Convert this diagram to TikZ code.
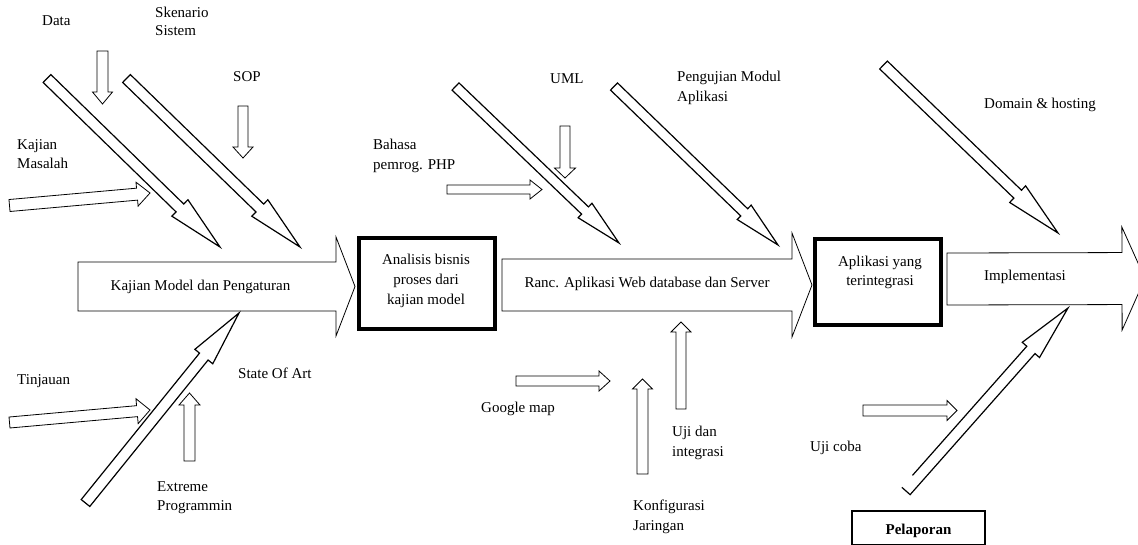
\documentclass[tikz,border=0pt]{standalone}
\usepackage{fontspec}
\setmainfont{Liberation Serif}
\usetikzlibrary{calc}
\newcommand{\fatpts}[6]{%
  \coordinate (#1c) at ($(#3)!#6!(#2)$);
  \coordinate (#1a) at ($(#2)!#4!90:(#3)$);
  \coordinate (#1b) at ($(#1c)!#4!90:(#3)$);
  \coordinate (#1d) at ($(#1c)!#5!90:(#3)$);
  \coordinate (#1e) at ($(#1c)!#5!-90:(#3)$);
  \coordinate (#1f) at ($(#1c)!#4!-90:(#3)$);
  \coordinate (#1g) at ($(#2)!#4!-90:(#3)$);
}
\newcommand{\fatarrow}[7]{% style, name, tail, tip, w, h, L
  \fatpts{#2}{#3}{#4}{#5}{#6}{#7}
  \draw[#1] (#2a) -- (#2b) -- (#2d) -- (#4) -- (#2e) -- (#2f) -- (#2g) -- cycle;
}
\tikzset{
  lbl/.style={anchor=north west, inner sep=0pt, align=left, font=\fontsize{15}{20}\selectfont},
  clbl/.style={anchor=north, inner sep=0pt, align=center, font=\fontsize{15}{20}\selectfont},
  fat/.style={line width=1.2pt, line join=miter},
  thinarr/.style={line width=0.8pt, line join=miter},
  mainarr/.style={line width=0.8pt, line join=miter},
  bigbox/.style={draw, line width=4pt, inner sep=0pt},
  smallbox/.style={draw, line width=1.8pt, inner sep=0pt},
}
\begin{document}
\begin{tikzpicture}[x=1pt, y=-1pt]
\useasboundingbox (0,0) rectangle (1138,544);
\clip (0,0) rectangle (1138,544);

% main arrows
\coordinate (m1t) at (78,286.5);   \coordinate (m1h) at (355,286.5);
\coordinate (m2t) at (502,285);    \coordinate (m2h) at (812,285);
\coordinate (m3t) at (947,279);    \coordinate (m3h) at (1145,278.5);
\fatarrow{mainarr}{M1}{m1t}{m1h}{24.5pt}{49.5pt}{19pt}
\fatarrow{mainarr}{M2}{m2t}{m2h}{26pt}{52pt}{20pt}
\fatarrow{mainarr}{M3}{m3t}{m3h}{26pt}{51.5pt}{23pt}

% boxes
\node[bigbox, minimum width=136pt, minimum height=91pt] (analisisbox) at (426.5,283.5) {};
\node[bigbox, minimum width=126pt, minimum height=86pt] (aplikasibox) at (878,282) {};
\node[smallbox, minimum width=133pt, minimum height=34pt] (pelaporanbox) at (918.5,528) {};

% small arrows
\coordinate (datat) at (102.5,51);  \coordinate (datah) at (102.5,104);
\coordinate (sopt) at (243,106);    \coordinate (soph) at (243,158);
\coordinate (kmt) at (9.5,205.5);   \coordinate (kmh) at (150,193);
\coordinate (tint) at (9.5,422.5);  \coordinate (tinh) at (150,410);
\coordinate (extt) at (189.5,461);  \coordinate (exth) at (189.5,393);
\coordinate (phpt) at (447,189.5);  \coordinate (phph) at (542,189.5);
\coordinate (umlt) at (565,126);    \coordinate (umlh) at (565,178);
\coordinate (gmt) at (516,381);     \coordinate (gmh) at (610,381);
\coordinate (konft) at (642.5,474); \coordinate (konfh) at (642.5,379);
\coordinate (ujit) at (681,409);    \coordinate (ujih) at (681,322);
\coordinate (uct) at (863,410.5);   \coordinate (uch) at (957,410.5);
\fatarrow{thinarr}{AD}{datat}{datah}{5.5pt}{10pt}{12pt}
\fatarrow{thinarr}{AS}{sopt}{soph}{5pt}{10pt}{11pt}
\fatarrow{thinarr}{AK}{kmt}{kmh}{6pt}{12pt}{13pt}
\fatarrow{thinarr}{AT}{tint}{tinh}{5.5pt}{12.5pt}{13pt}
\fatarrow{thinarr}{AE}{extt}{exth}{5.5pt}{10.5pt}{12pt}
\fatarrow{thinarr}{AP}{phpt}{phph}{4.5pt}{9.5pt}{12pt}
\fatarrow{thinarr}{AU}{umlt}{umlh}{5pt}{10.5pt}{10pt}
\fatarrow{thinarr}{AG}{gmt}{gmh}{5pt}{10pt}{11pt}
\fatarrow{thinarr}{AJ}{konft}{konfh}{5.5pt}{10pt}{10pt}
\fatarrow{thinarr}{AI}{ujit}{ujih}{5pt}{10pt}{10pt}
\fatarrow{thinarr}{AC}{uct}{uch}{5.5pt}{10pt}{10pt}

% diagonal arrows
\coordinate (d1t) at (47,78.5);    \coordinate (d1h) at (220,247);
\coordinate (d2t) at (126.5,78.5); \coordinate (d2h) at (300,247);
\coordinate (d3t) at (455.5,86.5); \coordinate (d3h) at (619,243);
\coordinate (d4t) at (614,86.5);   \coordinate (d4h) at (778,245);
\coordinate (d5t) at (883.5,65);   \coordinate (d5h) at (1058,233);
\coordinate (u1t) at (85.5,503);   \coordinate (u1h) at (239,313);
\coordinate (u2t) at (906,491);    \coordinate (u2h) at (1068,308);
\fatarrow{fat}{D1}{d1t}{d1h}{5.5pt}{11.5pt}{56pt}
\fatarrow{fat}{D2}{d2t}{d2h}{5.5pt}{11.5pt}{56pt}
\fatarrow{fat}{D3}{d3t}{d3h}{5pt}{10pt}{47pt}
\fatarrow{fat}{D4}{d4t}{d4h}{5pt}{10pt}{47pt}
\fatarrow{fat}{D5}{d5t}{d5h}{5.5pt}{11.5pt}{56pt}
\fatarrow{fat}{U1}{u1t}{u1h}{5.5pt}{11.5pt}{56pt}
\fatpts{U2}{u2t}{u2h}{5.5pt}{11.5pt}{56pt}
\draw[fat] ($(U2a)!16pt!(U2b)$) -- (U2b) -- (U2d) -- (u2h) -- (U2e) -- (U2f) -- (U2g) -- (U2a);

% texts
\node[lbl] (tdata) at (42,15.8) {Data};
\node[lbl, font=\fontsize{15}{18}\selectfont] (tsken) at (155,7.1) {Skenario\\Sistem};
\node[lbl] (tsop) at (233,71.5) {SOP};
\node[lbl, font=\fontsize{15}{19}\selectfont] (tkm) at (17,139.8) {Kajian\\Masalah};
\node[lbl] (ttin) at (17,374.8) {Tinjauan};
\node[lbl] (tsoa) at (238,368.1) {State Of Art};
\node[lbl, font=\fontsize{15}{19}\selectfont] (text) at (157,481.5) {Extreme\\Programmin};
\node[lbl] (tphp) at (373,138.8) {Bahasa\\pemrog. PHP};
\node[lbl] (tuml) at (550,73.1) {UML};
\node[lbl] (tpeng) at (677,70.5) {Pengujian Modul\\Aplikasi};
\node[lbl] (tgm) at (481,401.5) {Google map};
\node[lbl] (tuji) at (672,425.8) {Uji dan\\integrasi};
\node[lbl] (tkonf) at (633,499.8) {Konfigurasi\\Jaringan};
\node[lbl] (tdom) at (984,97.5) {Domain \& hosting};
\node[lbl] (tuc) at (810,440.5) {Uji coba};
\node[clbl] (tm1) at (200.5,279.8) {Kajian Model dan Pengaturan};
\node[clbl] (tm2) at (647,277.1) {Ranc. Aplikasi Web database dan Server};
\node[lbl] (tm3) at (984,269.8) {Implementasi};
\node[clbl] (tana) at (426,253.5) {Analisis bisnis\\proses dari\\kajian model};
\node[clbl, font=\fontsize{15}{19}\selectfont] (tapl) at (880,255.8) {Aplikasi yang\\terintegrasi};
\node[clbl, font=\fontsize{15}{20}\selectfont\bfseries] (tpel) at (918.5,524.1) {Pelaporan};
\end{tikzpicture}
\end{document}
